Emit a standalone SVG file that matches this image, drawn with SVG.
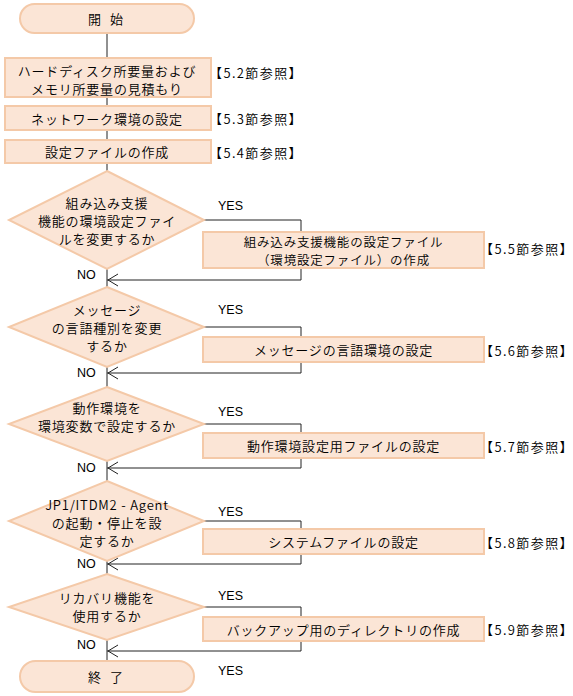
<svg xmlns="http://www.w3.org/2000/svg" width="573" height="696" viewBox="0 0 573 696">
<style>
.shape{fill:#fbe5d6;stroke:#f4c9a8;stroke-width:2}
.t{font-family:"Noto Sans CJK JP","Noto Sans",sans-serif;font-size:13px;font-weight:350;letter-spacing:0.8px;fill:#000;text-anchor:middle;dominant-baseline:central}
.ref{font-family:"Noto Sans CJK JP","Noto Sans",sans-serif;font-size:13px;font-weight:350;letter-spacing:1.4px;fill:#000;dominant-baseline:central}
.yn{font-family:"Liberation Sans",Arial,sans-serif;font-size:12.5px;fill:#000;dominant-baseline:central}
.ln{fill:none;stroke:#222;stroke-width:1}
</style>
<rect width="573" height="696" fill="#fff"/>
<g id="connectors">
<path class="ln" d="M107,33V58M107,97V106M107,130V140M107,163V171M107,269V287M107,367V387M107,461V481M107,561V574M107,640V661"/>
<path class="ln" d="M204,220H301V232M301,268V280H107"/>
<path class="ln" d="M204,327H301V337M301,362V373H107"/>
<path class="ln" d="M204,424H301V433M301,458V468H107"/>
<path class="ln" d="M204,521H301V529M301,554V564H107"/>
<path class="ln" d="M204,607H301V617M301,641V651H107"/>
<path class="ln" d="M118,274L108,280L118,286M118,367L108,373L118,379M118,462L108,468L118,474M118,558L108,564L118,570M118,645L108,651L118,657"/>
<text class="yn" x="218" y="206">YES</text>
<text class="yn" x="218" y="310">YES</text>
<text class="yn" x="218" y="412">YES</text>
<text class="yn" x="218" y="512">YES</text>
<text class="yn" x="218" y="596">YES</text>
<text class="yn" x="218" y="671">YES</text>
<text class="yn" x="77" y="275">NO</text>
<text class="yn" x="77" y="373">NO</text>
<text class="yn" x="77" y="468">NO</text>
<text class="yn" x="77" y="564">NO</text>
<text class="yn" x="77" y="645">NO</text>
</g>
<g id="start">
<rect class="shape" x="20" y="4" width="174" height="29" rx="14.5"/>
<text class="t" x="107" y="18.5" style="letter-spacing:3px">開 始</text>
</g>
<g id="estimate">
<rect class="shape" x="5" y="58" width="206" height="39"/>
<text class="t" x="107" y="70">ハードディスク所要量および</text>
<text class="t" x="107" y="88">メモリ所要量の見積もり</text>
<text class="ref" x="209" y="72">【5.2節参照】</text>
</g>
<g id="network">
<rect class="shape" x="5" y="106" width="206" height="24"/>
<text class="t" x="107" y="118">ネットワーク環境の設定</text>
<text class="ref" x="209" y="118">【5.3節参照】</text>
</g>
<g id="configfile">
<rect class="shape" x="5" y="140" width="206" height="23"/>
<text class="t" x="107" y="151.5">設定ファイルの作成</text>
<text class="ref" x="209" y="152">【5.4節参照】</text>
</g>
<g id="decision1">
<polygon class="shape" points="107,171 204,220 107,269 9,220"/>
<text class="t" x="107" y="202">組み込み支援</text>
<text class="t" x="107" y="220">機能の環境設定ファイ</text>
<text class="t" x="107" y="238">ルを変更するか</text>
</g>
<g id="envfile">
<rect class="shape" x="203" y="232" width="281" height="36"/>
<text class="t" x="343.5" y="241" style="font-size:12.5px">組み込み支援機能の設定ファイル</text>
<text class="t" x="343.5" y="259" style="font-size:12.5px">（環境設定ファイル）の作成</text>
<text class="ref" x="480" y="248">【5.5節参照】</text>
</g>
<g id="decision2">
<polygon class="shape" points="107,287 204,327 107,367 9,327"/>
<text class="t" x="107" y="309">メッセージ</text>
<text class="t" x="107" y="327">の言語種別を変更</text>
<text class="t" x="107" y="345">するか</text>
</g>
<g id="msglang">
<rect class="shape" x="203" y="337" width="281" height="25"/>
<text class="t" x="343.5" y="349.5">メッセージの言語環境の設定</text>
<text class="ref" x="480" y="350">【5.6節参照】</text>
</g>
<g id="decision3">
<polygon class="shape" points="107,387 204,424 107,461 9,424"/>
<text class="t" x="107" y="407">動作環境を</text>
<text class="t" x="107" y="425">環境変数で設定するか</text>
</g>
<g id="opfile">
<rect class="shape" x="203" y="433" width="281" height="25"/>
<text class="t" x="343.5" y="445.5">動作環境設定用ファイルの設定</text>
<text class="ref" x="480" y="446">【5.7節参照】</text>
</g>
<g id="decision4">
<polygon class="shape" points="107,481 204,521 107,561 9,521"/>
<text class="t" x="107" y="504">JP1/ITDM2 - Agent</text>
<text class="t" x="107" y="522">の起動・停止を設</text>
<text class="t" x="107" y="540">定するか</text>
</g>
<g id="sysfile">
<rect class="shape" x="203" y="529" width="281" height="25"/>
<text class="t" x="343.5" y="541.5">システムファイルの設定</text>
<text class="ref" x="480" y="542">【5.8節参照】</text>
</g>
<g id="decision5">
<polygon class="shape" points="107,574 204,607 107,640 9,607"/>
<text class="t" x="107" y="597">リカバリ機能を</text>
<text class="t" x="107" y="615">使用するか</text>
</g>
<g id="backupdir">
<rect class="shape" x="203" y="617" width="281" height="24"/>
<text class="t" x="343.5" y="629">バックアップ用のディレクトリの作成</text>
<text class="ref" x="480" y="629">【5.9節参照】</text>
</g>
<g id="end">
<rect class="shape" x="20" y="661" width="174" height="31" rx="15.5"/>
<text class="t" x="107" y="676.5" style="letter-spacing:3px">終 了</text>
</g>
</svg>
